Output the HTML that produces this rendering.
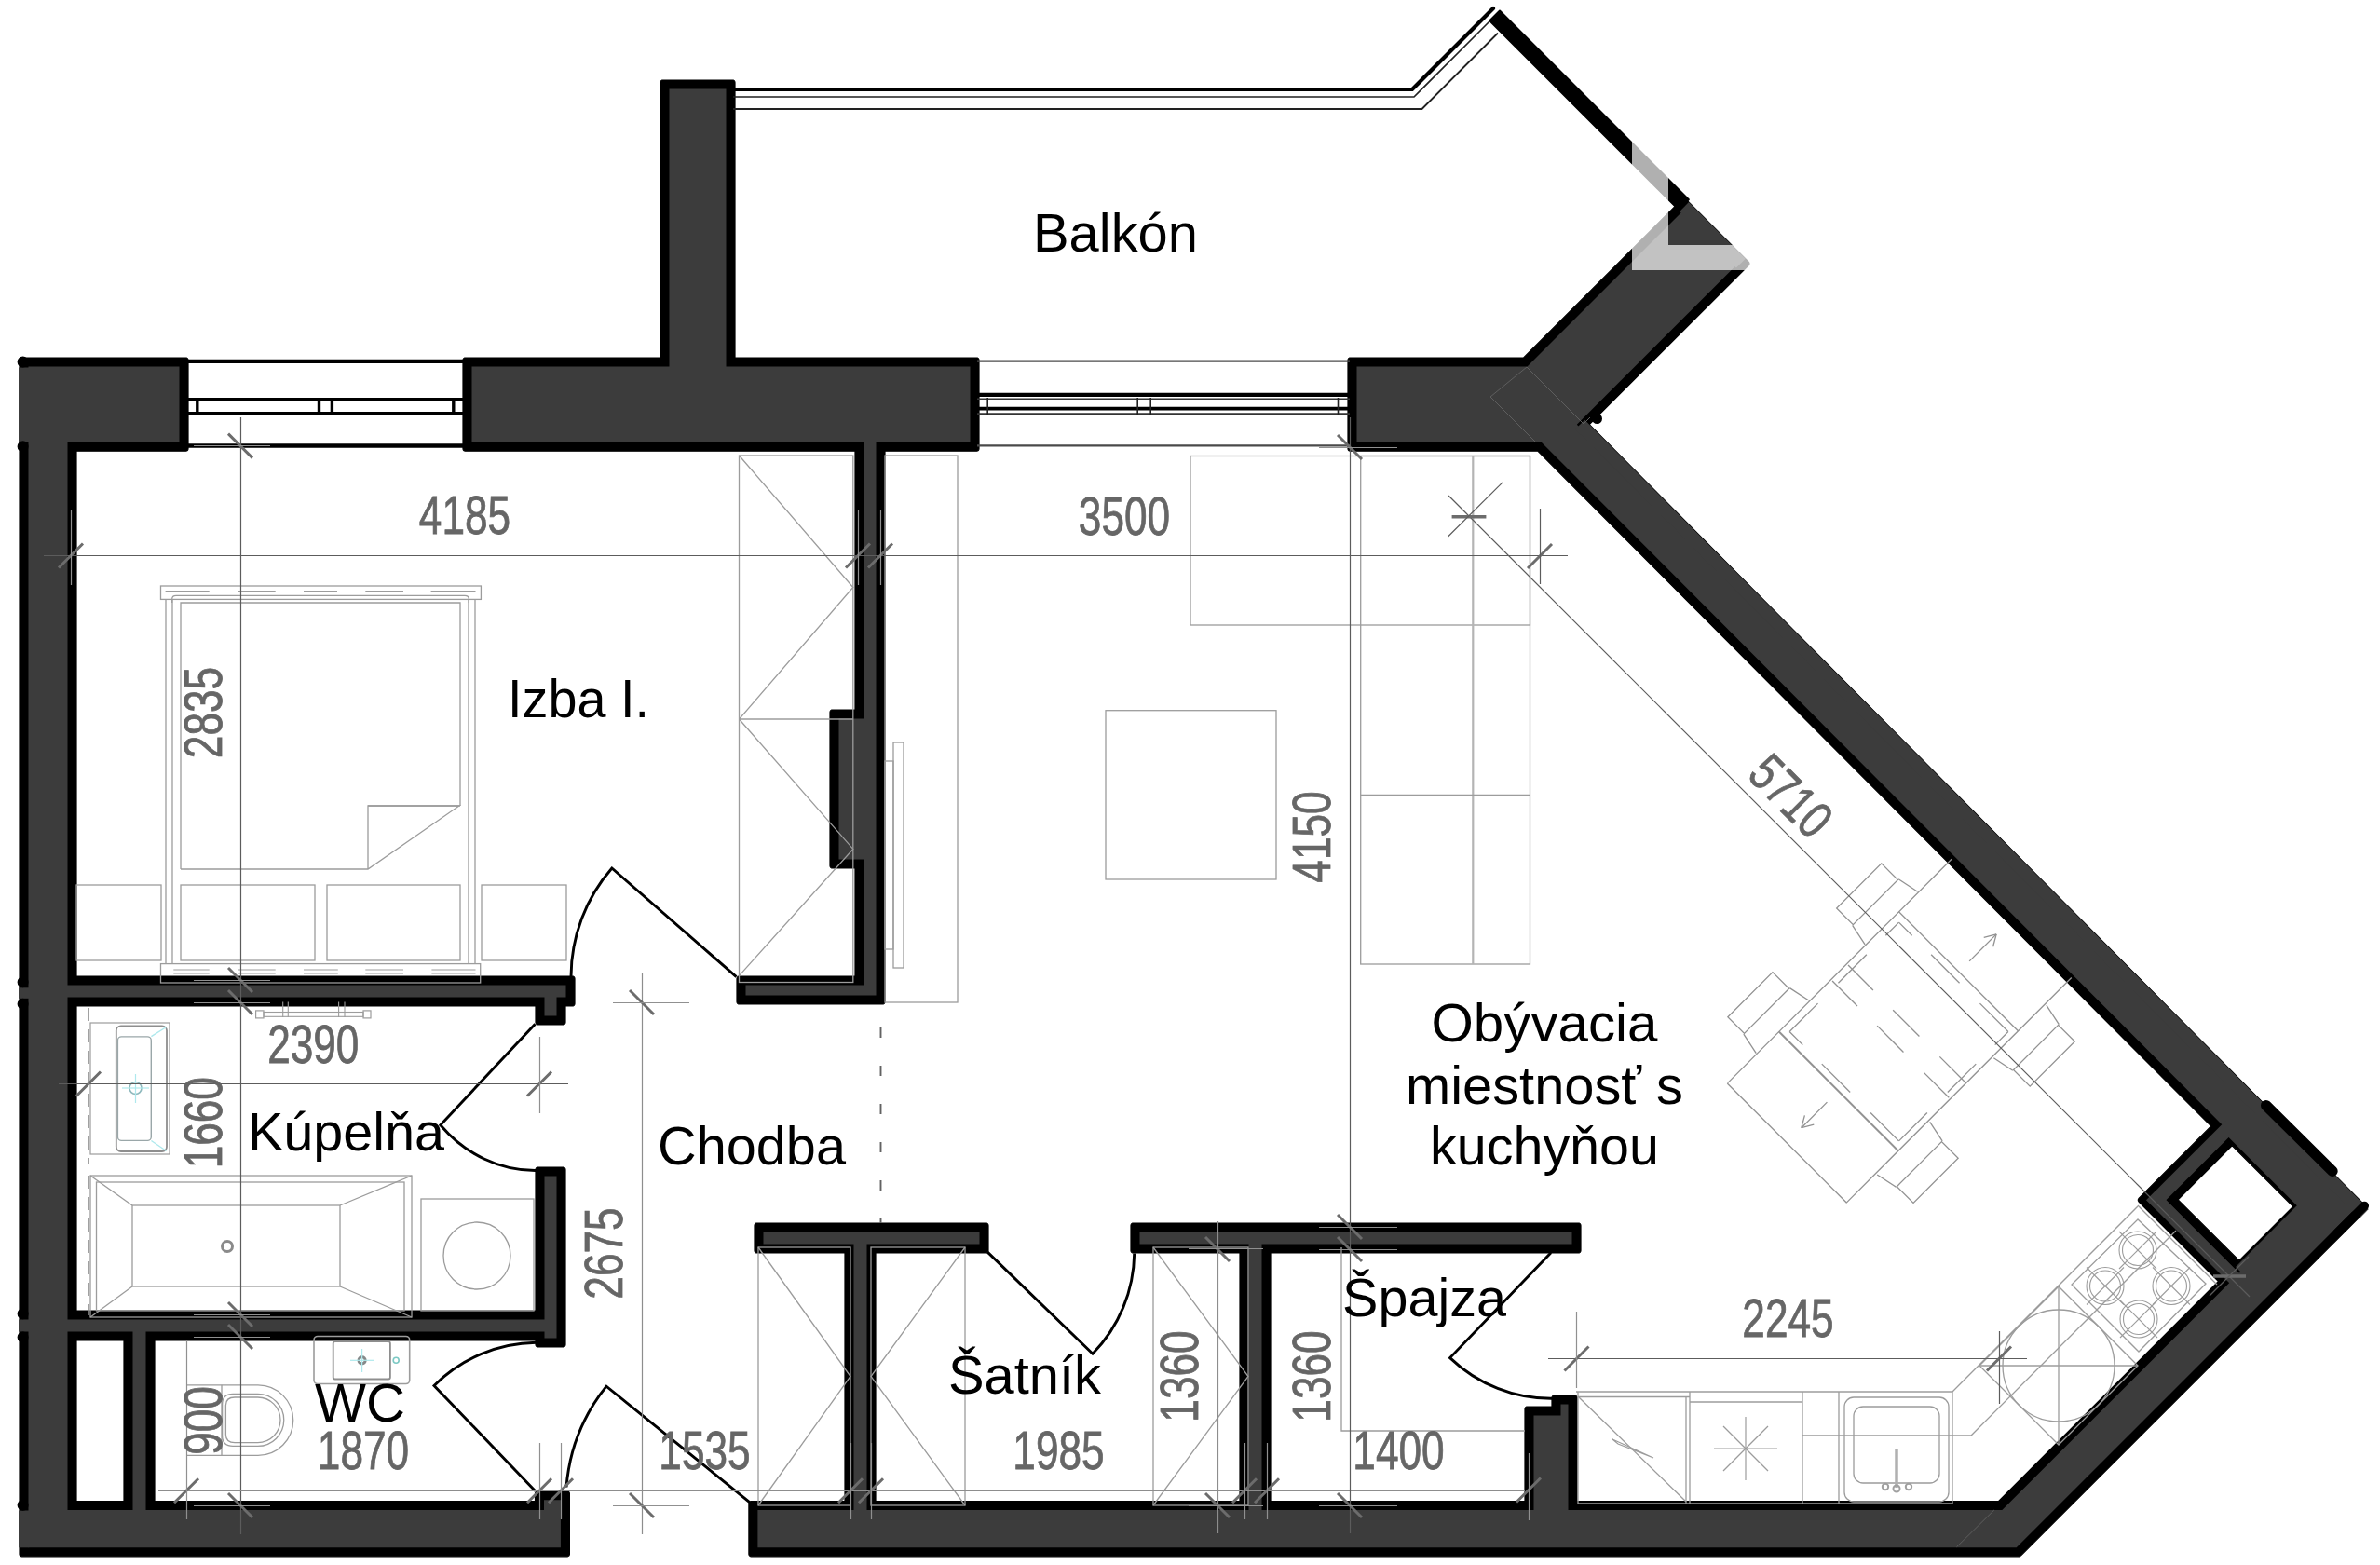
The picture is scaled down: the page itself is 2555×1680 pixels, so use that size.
<!DOCTYPE html>
<html><head><meta charset="utf-8"><title>Floor plan</title>
<style>html,body{margin:0;padding:0;background:#fff;}body{width:2555px;height:1680px;overflow:hidden;font-family:"Liberation Sans",sans-serif;}svg{display:block;}</style>
</head><body>
<svg width="2555" height="1680" viewBox="0 0 2555 1680">
<rect width="2555" height="1680" fill="#ffffff"/>
<path d="M1668.5 1498 L1667.5 1498.2 L1666.7 1498.7 L1666.2 1499.5 L1666 1500.5 L1666 1510 L1639.5 1510 L1638.5 1510.2 L1637.7 1510.7 L1637.2 1511.5 L1637 1512.5 L1637 1611.6 L1364 1611.6 L1364 1345 L1694.5 1345 L1695.5 1344.8 L1696.3 1344.3 L1696.8 1343.5 L1697 1342.5 L1697 1315.5 L1696.8 1314.5 L1696.3 1313.7 L1695.5 1313.2 L1694.5 1313 L1216.5 1313 L1215.5 1313.2 L1214.7 1313.7 L1214.2 1314.5 L1214 1315.5 L1214 1342.5 L1214.2 1343.5 L1214.7 1344.3 L1215.5 1344.8 L1216.5 1345 L1331 1345 L1331 1611.6 L940 1611.6 L940 1345 L1058.5 1345 L1059.5 1344.8 L1060.3 1344.3 L1060.8 1343.5 L1061 1342.5 L1061 1315.5 L1060.8 1314.5 L1060.3 1313.7 L1059.5 1313.2 L1058.5 1313 L812.5 1313 L811.5 1313.2 L810.7 1313.7 L810.2 1314.5 L810 1315.5 L810 1342.5 L810.2 1343.5 L810.7 1344.3 L811.5 1344.8 L812.5 1345 L907 1345 L907 1611.6 L806.4 1611.6 L805.4 1611.8 L804.6 1612.3 L804.1 1613.1 L803.9 1614.1 L803.9 1668.3 L804.1 1669.3 L804.6 1670.1 L805.4 1670.6 L806.4 1670.8 L2167.6 1670.8 L2168.5 1670.6 L2169.3 1670.1 L2540.4 1299 L2540.9 1298.2 L2541.1 1297.3 L2540.9 1296.3 L2540.4 1295.5 L1706.3 455.7 L1877.2 284.8 L1877.8 284 L1878 283 L1877.8 282 L1877.2 281.2 L1809.6 213.6 L1808.8 213 L1807.8 212.8 L1806.8 213 L1806 213.6 L1635.6 384 L1449.5 384 L1448.5 384.2 L1447.7 384.7 L1447.2 385.5 L1447 386.5 L1447 481.7 L1447.2 482.7 L1447.7 483.5 L1448.5 484 L1449.5 484.2 L1650.8 484.2 L2373.6 1208.9 L2296 1286.5 L2295.5 1287.3 L2295.3 1288.2 L2295.5 1289.2 L2296 1290 L2381.5 1375.5 L2145.4 1611.6 L1693 1611.6 L1693 1500.5 L1692.8 1499.5 L1692.3 1498.7 L1691.5 1498.2 L1690.5 1498Z M2396.2 1229.8 L2461 1294.5 L2460.8 1295.2 L2461 1296 L2403.8 1353.2 L2338.2 1287.8Z M918 762 L893.5 762 L892.5 762.2 L891.7 762.7 L891.2 763.5 L891 764.5 L891 929.5 L891.2 930.5 L891.7 931.3 L892.5 931.8 L893.5 932 L918 932 L918 1048 L793.5 1048 L792.5 1048.2 L791.7 1048.7 L791.2 1049.5 L791 1050.5 L791 1075.5 L791.2 1076.5 L791.7 1077.3 L792.5 1077.8 L793.5 1078 L947.5 1078 L948.5 1077.8 L949.3 1077.3 L949.8 1076.5 L950 1075.5 L950 484.2 L1048.5 484.2 L1049.5 484 L1050.3 483.5 L1050.8 482.7 L1051 481.7 L1051 386.5 L1050.8 385.5 L1050.3 384.7 L1049.5 384.2 L1048.5 384 L789 384 L789 88.5 L788.8 87.5 L788.3 86.7 L787.5 86.2 L786.5 86 L711.5 86 L710.5 86.2 L709.7 86.7 L709.2 87.5 L709 88.5 L709 384 L499.5 384 L498.5 384.2 L497.7 384.7 L497.2 385.5 L497 386.5 L497 481.7 L497.2 482.7 L497.7 483.5 L498.5 484 L499.5 484.2 L918 484.2Z M611.4 1603.3 L611.2 1602.3 L610.7 1601.5 L609.9 1601 L608.9 1600.8 L577 1600.8 L576 1601 L575.2 1601.5 L574.7 1602.3 L574.5 1603.3 L574.5 1611.6 L166 1611.6 L166 1439 L575 1439 L575 1443.5 L575.2 1444.5 L575.7 1445.3 L576.5 1445.8 L577.5 1446 L604.5 1446 L605.5 1445.8 L606.3 1445.3 L606.8 1444.5 L607 1443.5 L607 1255.5 L606.8 1254.5 L606.3 1253.7 L605.5 1253.2 L604.5 1253 L577.5 1253 L576.5 1253.2 L575.7 1253.7 L575.2 1254.5 L575 1255.5 L575 1407 L82 1407 L82 1080 L575 1080 L575 1097.5 L575.2 1098.5 L575.7 1099.3 L576.5 1099.8 L577.5 1100 L604.5 1100 L605.5 1099.8 L606.3 1099.3 L606.8 1098.5 L607 1097.5 L607 1080 L614.5 1080 L615.5 1079.8 L616.3 1079.3 L616.8 1078.5 L617 1077.5 L617 1050.5 L616.8 1049.5 L616.3 1048.7 L615.5 1048.2 L614.5 1048 L82 1048 L82 484.2 L199.5 484.2 L200.5 484 L201.3 483.5 L201.8 482.7 L202 481.7 L202 386.5 L201.8 385.5 L201.3 384.7 L200.5 384.2 L199.5 384 L23.5 384 L22.5 384.2 L21.7 384.7 L21.2 385.5 L21 386.5 L21 1668.3 L21.2 1669.3 L21.7 1670.1 L22.5 1670.6 L23.5 1670.8 L608.9 1670.8 L609.9 1670.6 L610.7 1670.1 L611.2 1669.3 L611.4 1668.3Z M82 1611.6 L82 1439 L133 1439 L133 1611.6Z" fill="#000000" fill-rule="evenodd" stroke="#000" stroke-width="1.2" stroke-linejoin="round"/>
<path d="M1675.5 1507.5 L1675.5 1519.5 L1646.5 1519.5 L1646.5 1621.1 L1354.5 1621.1 L1354.5 1335.5 L1687.5 1335.5 L1687.5 1322.5 L1223.5 1322.5 L1223.5 1335.5 L1340.5 1335.5 L1340.5 1621.1 L930.5 1621.1 L930.5 1335.5 L1051.5 1335.5 L1051.5 1322.5 L819.5 1322.5 L819.5 1335.5 L916.5 1335.5 L916.5 1621.1 L813.4 1621.1 L813.4 1661.3 L2164.7 1661.3 L2528.7 1297.3 L1692.8 455.7 L1865.6 283 L1807.8 225.2 L1639.5 393.5 L1456.5 393.5 L1456.5 474.7 L1654.7 474.7 L2387.1 1208.9 L2307.7 1288.2 L2394.9 1375.5 L2149.3 1621.1 L1683.5 1621.1 L1683.5 1507.5Z M2404.9 1224.9 L2474.2 1294.2 L2473.2 1295.2 L2474.2 1296.2 L2403.8 1366.7 L2324.8 1287.8 L2404.9 1207.7Z M927.5 771.5 L900.5 771.5 L900.5 922.5 L927.5 922.5 L927.5 1057.5 L800.5 1057.5 L800.5 1068.5 L940.5 1068.5 L940.5 474.7 L1041.5 474.7 L1041.5 393.5 L779.5 393.5 L779.5 95.5 L718.5 95.5 L718.5 393.5 L506.5 393.5 L506.5 474.7 L927.5 474.7Z M584.5 1436.5 L597.5 1436.5 L597.5 1262.5 L584.5 1262.5 L584.5 1416.5 L72.5 1416.5 L72.5 1070.5 L584.5 1070.5 L584.5 1090.5 L597.5 1090.5 L597.5 1070.5 L607.5 1070.5 L607.5 1057.5 L72.5 1057.5 L72.5 474.7 L192.5 474.7 L192.5 393.5 L30.5 393.5 L30.5 1661.3 L601.9 1661.3 L601.9 1610.3 L584 1610.3 L584 1621.1 L156.5 1621.1 L156.5 1429.5 L584.5 1429.5Z M72.5 1621.1 L72.5 1429.5 L142.5 1429.5 L142.5 1621.1Z" fill="#3c3c3c" fill-rule="evenodd"/>
<polygon points="1701.3,450.8 2542.8,1298 2532.9,1307.9 1691.4,460.6" fill="#3c3c3c" stroke="none" stroke-width="0" />
<polygon points="1813,217 1873.8,277.8 1863.9,287.6 1803.2,226.9" fill="#3c3c3c" stroke="none" stroke-width="0" />
<polygon points="2384.8,1213.2 2399,1199 2495,1295 2480.8,1309.2" fill="#3c3c3c" stroke="none" stroke-width="0" />
<polygon points="2400,1360 2473,1287 2481,1295 2408,1368" fill="#3c3c3c" stroke="none" stroke-width="0" />
<polygon points="2304.2,1288.2 2389.2,1203.2 2399.8,1213.8 2314.8,1298.8" fill="#3c3c3c" stroke="none" stroke-width="0" />
<polygon points="2304.2,1288.2 2314.8,1277.8 2406.5,1369.5 2396,1380" fill="#3c3c3c" stroke="none" stroke-width="0" />
<line x1="2432.7" y1="1186.6" x2="2504" y2="1257.2" stroke="#000" stroke-width="11.4" stroke-linecap="round"/>
<line x1="2538.3" y1="1294.4" x2="2508.8" y2="1323.9" stroke="#000" stroke-width="9.5" stroke-linecap="round"/>
<circle cx="1714.5" cy="449.5" r="3" fill="#000" stroke="#000" stroke-width="5"/>
<rect x="20" y="394.5" width="11.2" height="80" fill="#3c3c3c" stroke="none" stroke-width="0"  />
<rect x="20" y="1060.3" width="11.2" height="11.5" fill="#3c3c3c" stroke="none" stroke-width="0"  />
<rect x="20" y="1416.5" width="11.2" height="13" fill="#3c3c3c" stroke="none" stroke-width="0"  />
<rect x="20" y="1621.5" width="11.2" height="39.8" fill="#3c3c3c" stroke="none" stroke-width="0"  />
<circle cx="24.6" cy="388.6" r="3" fill="#000" stroke="#000" stroke-width="6"/>
<circle cx="24.6" cy="479.3" r="3" fill="#000" stroke="#000" stroke-width="6"/>
<circle cx="24.6" cy="1054.2" r="3" fill="#000" stroke="#000" stroke-width="6"/>
<circle cx="24.6" cy="1077.8" r="3" fill="#000" stroke="#000" stroke-width="6"/>
<circle cx="24.6" cy="1410.3" r="3" fill="#000" stroke="#000" stroke-width="6"/>
<circle cx="24.6" cy="1435.6" r="3" fill="#000" stroke="#000" stroke-width="6"/>
<circle cx="24.6" cy="1615.7" r="3" fill="#000" stroke="#000" stroke-width="6"/>
<polyline points="1648,474 1600,426 1639,394 1700,455 1707,448" fill="none" stroke="#5e5e5e" stroke-width="1" />
<line x1="2100.5" y1="1660.7" x2="2140.8" y2="1621" stroke="#5e5e5e" stroke-width="1" />
<g id="furn" stroke-linecap="butt">
<rect x="793.5" y="489" width="122.3" height="565.5" fill="none" stroke="#9c9c9c" stroke-width="1.3"  />
<polyline points="793.5,489 915.8,630.5 793.5,772" fill="none" stroke="#9c9c9c" stroke-width="1.3" />
<line x1="793.5" y1="772" x2="915.8" y2="772" stroke="#9c9c9c" stroke-width="1.3" />
<polyline points="793.5,772 915.8,911.4 793.5,1047.4" fill="none" stroke="#9c9c9c" stroke-width="1.3" />
<rect x="172.5" y="629" width="343.9" height="14.4" fill="none" stroke="#9c9c9c" stroke-width="1.3"  />
<line x1="177.6" y1="634.6" x2="224.7" y2="634.6" stroke="#9c9c9c" stroke-width="1.2" />
<line x1="255" y1="634.6" x2="295.7" y2="634.6" stroke="#9c9c9c" stroke-width="1.2" />
<line x1="326" y1="634.6" x2="362" y2="634.6" stroke="#9c9c9c" stroke-width="1.2" />
<line x1="392.3" y1="634.6" x2="433" y2="634.6" stroke="#9c9c9c" stroke-width="1.2" />
<line x1="462.6" y1="634.6" x2="510.5" y2="634.6" stroke="#9c9c9c" stroke-width="1.2" />
<path d="M184.7 647 V643 Q184.7 639.3 189 639.3 H499 Q503.3 639.3 503.3 643 V647" fill="none" stroke="#9c9c9c" stroke-width="1.2" />
<line x1="178" y1="643" x2="178" y2="1035" stroke="#9c9c9c" stroke-width="1.3" />
<line x1="185" y1="643" x2="185" y2="1035" stroke="#9c9c9c" stroke-width="1.3" />
<line x1="503" y1="643" x2="503" y2="1035" stroke="#9c9c9c" stroke-width="1.3" />
<line x1="510" y1="643" x2="510" y2="1035" stroke="#9c9c9c" stroke-width="1.3" />
<polyline points="194,933 194,647 494,647 494,865" fill="none" stroke="#9c9c9c" stroke-width="1.3" />
<polyline points="194,933 395,933 493,865 395,865 395,933" fill="none" stroke="#9c9c9c" stroke-width="1.3" />
<line x1="395" y1="865" x2="494" y2="865" stroke="#9c9c9c" stroke-width="1.3" />
<rect x="82" y="950" width="91" height="81" fill="none" stroke="#9c9c9c" stroke-width="1.3"  />
<rect x="194" y="950" width="144" height="81" fill="none" stroke="#9c9c9c" stroke-width="1.3"  />
<rect x="351" y="950" width="143" height="81" fill="none" stroke="#9c9c9c" stroke-width="1.3"  />
<rect x="517" y="950" width="91" height="81" fill="none" stroke="#9c9c9c" stroke-width="1.3"  />
<rect x="172.5" y="1034.6" width="343.2" height="20.4" fill="none" stroke="#9c9c9c" stroke-width="1.3"  />
<line x1="186.3" y1="1041" x2="224.7" y2="1041" stroke="#9c9c9c" stroke-width="1.2" />
<line x1="186.3" y1="1045" x2="224.7" y2="1045" stroke="#9c9c9c" stroke-width="1.2" />
<line x1="255" y1="1041" x2="295.7" y2="1041" stroke="#9c9c9c" stroke-width="1.2" />
<line x1="255" y1="1045" x2="295.7" y2="1045" stroke="#9c9c9c" stroke-width="1.2" />
<line x1="326" y1="1041" x2="362.8" y2="1041" stroke="#9c9c9c" stroke-width="1.2" />
<line x1="326" y1="1045" x2="362.8" y2="1045" stroke="#9c9c9c" stroke-width="1.2" />
<line x1="392.3" y1="1041" x2="433" y2="1041" stroke="#9c9c9c" stroke-width="1.2" />
<line x1="392.3" y1="1045" x2="433" y2="1045" stroke="#9c9c9c" stroke-width="1.2" />
<line x1="463.4" y1="1041" x2="510.5" y2="1041" stroke="#9c9c9c" stroke-width="1.2" />
<line x1="463.4" y1="1045" x2="510.5" y2="1045" stroke="#9c9c9c" stroke-width="1.2" />
<rect x="950" y="489" width="78" height="587" fill="none" stroke="#9c9c9c" stroke-width="1.3"  />
<rect x="959" y="797" width="11" height="242" fill="none" stroke="#9c9c9c" stroke-width="1.3"  />
<rect x="950" y="817" width="9" height="202" fill="none" stroke="#9c9c9c" stroke-width="1.3"  />
<rect x="1187" y="762.7" width="183" height="181.3" fill="none" stroke="#9c9c9c" stroke-width="1.3"  />
<rect x="1278" y="489.5" width="364.5" height="181.5" fill="none" stroke="#9c9c9c" stroke-width="1.3"  />
<rect x="1460.7" y="489.5" width="181.8" height="545.5" fill="none" stroke="#9c9c9c" stroke-width="1.3"  />
<line x1="1581.3" y1="489.5" x2="1581.3" y2="1035" stroke="#b4b4b4" stroke-width="2.2" />
<line x1="1460.7" y1="853.4" x2="1642.5" y2="853.4" stroke="#9c9c9c" stroke-width="1.3" />
<rect x="814" y="1339" width="99" height="277" fill="none" stroke="#9c9c9c" stroke-width="1.3"  />
<polyline points="814,1339 913,1477.5 814,1616" fill="none" stroke="#9c9c9c" stroke-width="1.3" />
<rect x="935" y="1339" width="101" height="277" fill="none" stroke="#9c9c9c" stroke-width="1.3"  />
<polyline points="1036,1339 935,1477.5 1036,1616" fill="none" stroke="#9c9c9c" stroke-width="1.3" />
<rect x="1238" y="1339" width="102" height="277" fill="none" stroke="#9c9c9c" stroke-width="1.3"  />
<polyline points="1238,1339 1340,1477.5 1238,1616" fill="none" stroke="#9c9c9c" stroke-width="1.3" />
<polyline points="1440,1339 1440,1536 1637,1536" fill="none" stroke="#9c9c9c" stroke-width="1.3" />
</g>
<g id="furn2">
<rect x="97" y="1098" width="85" height="141" fill="none" stroke="#9c9c9c" stroke-width="1.2"  />
<rect x="124.8" y="1101.3" width="54.2" height="134.7" fill="none" stroke="#8e8e8e" stroke-width="1.8" rx="5" />
<rect x="126.4" y="1112.9" width="35.9" height="111.5" fill="none" stroke="#9aa7a9" stroke-width="1.4" rx="4" />
<circle cx="145.5" cy="1168" r="6.5" fill="none" stroke="#8fb9bd" stroke-width="1.6"/>
<line x1="145.5" y1="1153" x2="145.5" y2="1184" stroke="#aee9ed" stroke-width="1.2" />
<line x1="131" y1="1168" x2="160" y2="1168" stroke="#aee9ed" stroke-width="1.2" />
<line x1="162.4" y1="1112.7" x2="178.5" y2="1102.5" stroke="#aee9ed" stroke-width="1.4" />
<line x1="162.4" y1="1224.5" x2="178.5" y2="1235.5" stroke="#aee9ed" stroke-width="1.4" />
<rect x="97" y="1262" width="345" height="152" fill="none" stroke="#9c9c9c" stroke-width="1.3"  />
<rect x="103.5" y="1269" width="330.5" height="138" fill="none" stroke="#9c9c9c" stroke-width="1.3"  />
<rect x="142" y="1294" width="223" height="87" fill="none" stroke="#9c9c9c" stroke-width="1.3"  />
<line x1="97" y1="1262" x2="142" y2="1294" stroke="#9c9c9c" stroke-width="1.3" />
<line x1="442" y1="1262" x2="365" y2="1294" stroke="#9c9c9c" stroke-width="1.3" />
<line x1="97" y1="1414" x2="142" y2="1381" stroke="#9c9c9c" stroke-width="1.3" />
<line x1="442" y1="1414" x2="365" y2="1381" stroke="#9c9c9c" stroke-width="1.3" />
<circle cx="244" cy="1338" r="5.5" fill="none" stroke="#8a8a8a" stroke-width="3"/>
<rect x="452" y="1287" width="121" height="120" fill="none" stroke="#9c9c9c" stroke-width="1.3"  />
<circle cx="512" cy="1348" r="36" fill="none" stroke="#9c9c9c" stroke-width="1.3"/>
<rect x="283" y="1086.5" width="107" height="4.8" fill="none" stroke="#9c9c9c" stroke-width="1.1"  />
<rect x="274.6" y="1084.9" width="8.4" height="8" fill="none" stroke="#9c9c9c" stroke-width="1.2"  />
<rect x="390" y="1084.9" width="8" height="8" fill="none" stroke="#9c9c9c" stroke-width="1.2"  />
<line x1="303.7" y1="1075.5" x2="303.7" y2="1092" stroke="#9c9c9c" stroke-width="1.1" />
<line x1="309.3" y1="1075.5" x2="309.3" y2="1092" stroke="#9c9c9c" stroke-width="1.1" />
<line x1="363.6" y1="1075.5" x2="363.6" y2="1092" stroke="#9c9c9c" stroke-width="1.1" />
<line x1="370" y1="1075.5" x2="370" y2="1092" stroke="#9c9c9c" stroke-width="1.1" />
<rect x="337" y="1434.5" width="102.7" height="51" fill="none" stroke="#9c9c9c" stroke-width="1.6" rx="4" />
<rect x="357.7" y="1440.2" width="61.2" height="40.3" fill="none" stroke="#8e8e8e" stroke-width="1.8" rx="2" />
<circle cx="388.6" cy="1460.3" r="3.6" fill="none" stroke="#85898a" stroke-width="3"/>
<line x1="388.6" y1="1448" x2="388.6" y2="1473" stroke="#aee9ed" stroke-width="1.2" />
<line x1="376" y1="1460.3" x2="401" y2="1460.3" stroke="#aee9ed" stroke-width="1.2" />
<circle cx="425.2" cy="1460.3" r="3" fill="none" stroke="#7cc9c4" stroke-width="1.6"/>
<path d="M200.8 1486.8 H277 A37.8 37.8 0 0 1 277 1562.4 H200.8" fill="none" stroke="#9c9c9c" stroke-width="1.3" />
<line x1="238" y1="1486.8" x2="238" y2="1562.4" stroke="#9c9c9c" stroke-width="1.3" />
<path d="M250 1496.3 H276.7 A28.05 28.05 0 0 1 276.7 1552.4 H250 Q238.6 1552.4 238.6 1541 V1507.5 Q238.6 1496.3 250 1496.3 Z" fill="none" stroke="#9c9c9c" stroke-width="1.3" />
<path d="M252 1500 H276.7 A24.3 24.3 0 0 1 276.7 1548.6 H252 Q242.4 1548.6 242.4 1540 V1508.6 Q242.4 1500 252 1500 Z" fill="none" stroke="#9c9c9c" stroke-width="1.3" />
<polyline points="1692,1494 2096,1494" fill="none" stroke="#9c9c9c" stroke-width="1.3" />
<line x1="1694" y1="1499.5" x2="1814" y2="1499.5" stroke="#9c9c9c" stroke-width="1.3" />
<line x1="1694" y1="1494" x2="1694" y2="1614" stroke="#9c9c9c" stroke-width="1.3" />
<line x1="1695" y1="1500" x2="1810" y2="1612" stroke="#9c9c9c" stroke-width="1.3" />
<polyline points="1731,1545 1775,1565 1737,1550 1731,1545" fill="none" stroke="#9c9c9c" stroke-width="1.1" />
<line x1="1810" y1="1499.5" x2="1810" y2="1614" stroke="#9c9c9c" stroke-width="1.3" />
<line x1="1814" y1="1494" x2="1814" y2="1614" stroke="#9c9c9c" stroke-width="1.3" />
<line x1="1814" y1="1505" x2="1935" y2="1505" stroke="#9c9c9c" stroke-width="1.3" />
<line x1="1935" y1="1494" x2="1935" y2="1614" stroke="#9c9c9c" stroke-width="1.3" />
<line x1="1974" y1="1494" x2="1974" y2="1614" stroke="#9c9c9c" stroke-width="1.3" />
<line x1="2096" y1="1494" x2="2096" y2="1614" stroke="#9c9c9c" stroke-width="1.3" />
<line x1="1694" y1="1614" x2="2096" y2="1614" stroke="#9c9c9c" stroke-width="1.3" />
<line x1="1840" y1="1555" x2="1908" y2="1555" stroke="#9c9c9c" stroke-width="1.2" />
<line x1="1850" y1="1531" x2="1898" y2="1579" stroke="#9c9c9c" stroke-width="1.2" />
<line x1="1874" y1="1521" x2="1874" y2="1589" stroke="#9c9c9c" stroke-width="1.2" />
<line x1="1898" y1="1531" x2="1850" y2="1579" stroke="#9c9c9c" stroke-width="1.2" />
<rect x="1980" y="1500" width="112" height="112" fill="none" stroke="#9c9c9c" stroke-width="1.3" rx="10" />
<rect x="1990" y="1510" width="92" height="82" fill="none" stroke="#9c9c9c" stroke-width="1.3" rx="10" />
<line x1="2036" y1="1555" x2="2036" y2="1597" stroke="#b0b0b0" stroke-width="3.5" />
<circle cx="2024" cy="1596" r="3.2" fill="none" stroke="#a0a0a0" stroke-width="2"/>
<circle cx="2049" cy="1596" r="3.2" fill="none" stroke="#a0a0a0" stroke-width="2"/>
<circle cx="2036" cy="1598" r="3.5" fill="none" stroke="#a0a0a0" stroke-width="2"/>
<polyline points="1935,1541 2116,1541 2336,1321" fill="none" stroke="#9c9c9c" stroke-width="1.3" />
<line x1="2096" y1="1494" x2="2296" y2="1294" stroke="#9c9c9c" stroke-width="1.3" />
<polygon points="2125,1466 2210,1381 2295,1466 2210,1551" fill="none" stroke="#9c9c9c" stroke-width="1.3" />
<line x1="2210" y1="1381" x2="2210" y2="1551" stroke="#9c9c9c" stroke-width="1.3" />
<line x1="2125" y1="1466" x2="2295" y2="1466" stroke="#9c9c9c" stroke-width="1.3" />
<circle cx="2210" cy="1466" r="60" fill="none" stroke="#9c9c9c" stroke-width="1.3"/>
<line x1="2296" y1="1295" x2="2380" y2="1379" stroke="#9c9c9c" stroke-width="1.3" />
<polygon points="2295,1309 2224,1379 2296,1451 2368,1378" fill="none" stroke="#9c9c9c" stroke-width="1.3" />
<circle cx="2295" cy="1342" r="20" fill="none" stroke="#9c9c9c" stroke-width="1.1"/>
<circle cx="2295" cy="1342" r="16.5" fill="none" stroke="#9c9c9c" stroke-width="1.1"/>
<line x1="2275" y1="1322" x2="2315" y2="1362" stroke="#9c9c9c" stroke-width="1.1" />
<line x1="2275" y1="1362" x2="2315" y2="1322" stroke="#9c9c9c" stroke-width="1.1" />
<circle cx="2260" cy="1380.5" r="20" fill="none" stroke="#9c9c9c" stroke-width="1.1"/>
<circle cx="2260" cy="1380.5" r="16.5" fill="none" stroke="#9c9c9c" stroke-width="1.1"/>
<line x1="2240" y1="1360.5" x2="2280" y2="1400.5" stroke="#9c9c9c" stroke-width="1.1" />
<line x1="2240" y1="1400.5" x2="2280" y2="1360.5" stroke="#9c9c9c" stroke-width="1.1" />
<circle cx="2331" cy="1380.5" r="20" fill="none" stroke="#9c9c9c" stroke-width="1.1"/>
<circle cx="2331" cy="1380.5" r="16.5" fill="none" stroke="#9c9c9c" stroke-width="1.1"/>
<line x1="2311" y1="1360.5" x2="2351" y2="1400.5" stroke="#9c9c9c" stroke-width="1.1" />
<line x1="2311" y1="1400.5" x2="2351" y2="1360.5" stroke="#9c9c9c" stroke-width="1.1" />
<circle cx="2296" cy="1416" r="20" fill="none" stroke="#9c9c9c" stroke-width="1.1"/>
<circle cx="2296" cy="1416" r="16.5" fill="none" stroke="#9c9c9c" stroke-width="1.1"/>
<line x1="2276" y1="1396" x2="2316" y2="1436" stroke="#9c9c9c" stroke-width="1.1" />
<line x1="2276" y1="1436" x2="2316" y2="1396" stroke="#9c9c9c" stroke-width="1.1" />
</g>
<g id="dining" transform="translate(2038.5,1107.5) rotate(45)" fill="none" stroke="#929292" stroke-width="1.3">
<line x1="-91" y1="-171" x2="-91" y2="169"/>
<line x1="90" y1="-172" x2="90" y2="170"/>
<line x1="-91" y1="-91" x2="90" y2="-91"/>
<line x1="-91" y1="91" x2="90" y2="91" stroke-width="2"/>
<line x1="-91" y1="169.5" x2="90" y2="169.5"/>
<line x1="-83" y1="-83" x2="-63" y2="-83"/>
<line x1="-83" y1="83" x2="-63" y2="83"/>
<line x1="-83" y1="-83" x2="-83" y2="-63"/>
<line x1="83" y1="-83" x2="83" y2="-63"/>
<line x1="-34" y1="-83" x2="9" y2="-83"/>
<line x1="-34" y1="83" x2="9" y2="83"/>
<line x1="-83" y1="-34" x2="-83" y2="9"/>
<line x1="83" y1="-34" x2="83" y2="9"/>
<line x1="40" y1="-83" x2="83" y2="-83"/>
<line x1="40" y1="83" x2="83" y2="83"/>
<line x1="-83" y1="40" x2="-83" y2="83"/>
<line x1="83" y1="40" x2="83" y2="83"/>
<line x1="-89" y1="-12" x2="-51" y2="-12"/>
<line x1="-89" y1="12" x2="-51" y2="12"/>
<line x1="-21" y1="-12" x2="19" y2="-12"/>
<line x1="-21" y1="12" x2="19" y2="12"/>
<line x1="50" y1="-12" x2="88" y2="-12"/>
<line x1="50" y1="12" x2="88" y2="12"/>
<line x1="0" y1="-107" x2="0" y2="-148"/>
<line x1="0" y1="-148" x2="-7" y2="-136"/>
<line x1="0" y1="-148" x2="7" y2="-136"/>
<line x1="-1" y1="108" x2="-1" y2="147"/>
<line x1="-1" y1="147" x2="-8" y2="135"/>
<line x1="-1" y1="147" x2="6" y2="135"/>
<path d="M-116 -114.5 L-141 -114.5 L-141 -46.5 L-116 -46.5 Z"/>
<line x1="-116" y1="-115.5" x2="-92" y2="-120.5"/>
<line x1="-116" y1="-45.5" x2="-92" y2="-40.5"/>
<path d="M-116 50.7 L-141 50.7 L-141 118.7 L-116 118.7 Z"/>
<line x1="-116" y1="49.7" x2="-92" y2="44.7"/>
<line x1="-116" y1="119.7" x2="-92" y2="124.7"/>
<path d="M116 -126 L141 -126 L141 -58 L116 -58 Z"/>
<line x1="116" y1="-127" x2="92" y2="-132"/>
<line x1="116" y1="-57" x2="92" y2="-52"/>
<path d="M116 51 L141 51 L141 119 L116 119 Z"/>
<line x1="116" y1="50" x2="92" y2="45"/>
<line x1="116" y1="120" x2="92" y2="125"/>
</g>
<g id="openings" stroke-linecap="butt">
<line x1="200" y1="387.9" x2="498" y2="387.9" stroke="#000000" stroke-width="4.3" />
<line x1="200" y1="428.4" x2="498" y2="428.4" stroke="#000000" stroke-width="3.0" />
<line x1="200" y1="443.6" x2="498" y2="443.6" stroke="#000000" stroke-width="3.0" />
<line x1="200" y1="478.5" x2="498" y2="478.5" stroke="#000000" stroke-width="4.3" />
<line x1="211.8" y1="428" x2="211.8" y2="444" stroke="#000000" stroke-width="3.4" />
<line x1="342.5" y1="428" x2="342.5" y2="444" stroke="#000000" stroke-width="3.4" />
<line x1="356.4" y1="428" x2="356.4" y2="444" stroke="#000000" stroke-width="3.4" />
<line x1="486.8" y1="428" x2="486.8" y2="444" stroke="#000000" stroke-width="3.4" />
<line x1="1049" y1="387.6" x2="1449" y2="387.6" stroke="#4a4a4a" stroke-width="2.2" />
<line x1="1049" y1="478.4" x2="1449" y2="478.4" stroke="#4a4a4a" stroke-width="2.2" />
<line x1="1049" y1="423.9" x2="1449" y2="423.9" stroke="#000000" stroke-width="4.4" />
<line x1="1049" y1="428.3" x2="1449" y2="428.3" stroke="#333" stroke-width="1.6" />
<line x1="1049" y1="438.7" x2="1449" y2="438.7" stroke="#000000" stroke-width="3.8" />
<line x1="1049" y1="444.1" x2="1449" y2="444.1" stroke="#333" stroke-width="1.8" />
<line x1="1060.2" y1="427" x2="1060.2" y2="445" stroke="#222" stroke-width="1.6" />
<line x1="1221.2" y1="427" x2="1221.2" y2="445" stroke="#222" stroke-width="1.6" />
<line x1="1235.2" y1="427" x2="1235.2" y2="445" stroke="#222" stroke-width="1.6" />
<line x1="1436.5" y1="427" x2="1436.5" y2="445" stroke="#222" stroke-width="1.6" />
<polyline points="787,96 1516,96 1603,9" fill="none" stroke="#000000" stroke-width="4.2" stroke-linejoin="miter" stroke-linecap="round"/>
<polyline points="787,104 1518,104 1598.5,23.5" fill="none" stroke="#222" stroke-width="1.6" />
<polyline points="787,117 1526.5,117 1608,35.5" fill="none" stroke="#222" stroke-width="1.8" />
<polygon points="1599.2,22.2 1610,11.5 1812.8,214.2 1802,225" fill="#000000" stroke="#000000" stroke-width="2" stroke-linejoin="round"/>
<path d="M790.5 1048.6 L656.9 932 A177.4 177.4 0 0 0 613 1048.5" fill="none" stroke="#000000" stroke-width="2.9" stroke-linejoin="miter"/>
<path d="M574.5 1099.3 L472.8 1207.7 A140.4 157.2 0 0 0 575.5 1256.5" fill="none" stroke="#000000" stroke-width="2.9" stroke-linejoin="miter"/>
<path d="M574.5 1600.5 L466 1487.4 A157.5 157.5 0 0 1 575.5 1441.2" fill="none" stroke="#000000" stroke-width="2.9" stroke-linejoin="miter"/>
<path d="M804.7 1612.6 L651 1488.2 A197.6 197.6 0 0 0 608 1596.5" fill="none" stroke="#000000" stroke-width="2.9" stroke-linejoin="miter"/>
<path d="M1060.2 1344.1 L1173 1453.2 A157 157 0 0 0 1217.7 1345.4" fill="none" stroke="#000000" stroke-width="2.9" stroke-linejoin="miter"/>
<path d="M1665 1344.7 L1556.6 1457.6 A156.5 156.5 0 0 0 1667.5 1501.3" fill="none" stroke="#000000" stroke-width="2.9" stroke-linejoin="miter"/>
</g>
<g id="dims">
<line x1="47" y1="596.5" x2="1683" y2="596.5" stroke="#5c5c5c" stroke-width="1.2" />
<line x1="63" y1="609.5" x2="89" y2="583.5" stroke="#6c6c6c" stroke-width="3.0" />
<line x1="76.5" y1="547" x2="76.5" y2="628" stroke="#909090" stroke-width="1.2" />
<line x1="908" y1="609.5" x2="934" y2="583.5" stroke="#6c6c6c" stroke-width="3.0" />
<line x1="921.5" y1="547" x2="921.5" y2="628" stroke="#909090" stroke-width="1.2" />
<line x1="932" y1="609.5" x2="958" y2="583.5" stroke="#6c6c6c" stroke-width="3.0" />
<line x1="945.5" y1="547" x2="945.5" y2="628" stroke="#909090" stroke-width="1.2" />
<line x1="1640" y1="610" x2="1666" y2="584" stroke="#6c6c6c" stroke-width="3.0" />
<line x1="1653.5" y1="546" x2="1653.5" y2="627" stroke="#5c5c5c" stroke-width="1.2" />
<line x1="258.5" y1="448" x2="258.5" y2="1647" stroke="#5c5c5c" stroke-width="1.2" />
<line x1="245" y1="465.6" x2="271" y2="491.6" stroke="#6c6c6c" stroke-width="3.0" />
<line x1="208" y1="478.5" x2="290" y2="478.5" stroke="#909090" stroke-width="1.2" />
<line x1="245" y1="1039" x2="271" y2="1065" stroke="#6c6c6c" stroke-width="3.0" />
<line x1="208" y1="1052.5" x2="290" y2="1052.5" stroke="#909090" stroke-width="1.2" />
<line x1="245" y1="1063" x2="271" y2="1089" stroke="#6c6c6c" stroke-width="3.0" />
<line x1="208" y1="1076.5" x2="290" y2="1076.5" stroke="#909090" stroke-width="1.2" />
<line x1="245" y1="1398" x2="271" y2="1424" stroke="#6c6c6c" stroke-width="3.0" />
<line x1="208" y1="1411.5" x2="290" y2="1411.5" stroke="#909090" stroke-width="1.2" />
<line x1="245" y1="1422" x2="271" y2="1448" stroke="#6c6c6c" stroke-width="3.0" />
<line x1="208" y1="1435.5" x2="290" y2="1435.5" stroke="#909090" stroke-width="1.2" />
<line x1="245" y1="1603" x2="271" y2="1629" stroke="#6c6c6c" stroke-width="3.0" />
<line x1="208" y1="1616.5" x2="290" y2="1616.5" stroke="#909090" stroke-width="1.2" />
<line x1="63" y1="1163.5" x2="610" y2="1163.5" stroke="#5c5c5c" stroke-width="1.2" />
<line x1="82" y1="1176.5" x2="108" y2="1150.5" stroke="#6c6c6c" stroke-width="3.0" />
<line x1="566" y1="1176.5" x2="592" y2="1150.5" stroke="#6c6c6c" stroke-width="3.0" />
<line x1="579.5" y1="1113" x2="579.5" y2="1195" stroke="#909090" stroke-width="1.2" />
<line x1="95" y1="1082" x2="95" y2="1250" stroke="#8a8a8a" stroke-width="1.6" stroke-dasharray="14 9"/>
<line x1="95" y1="1262" x2="95" y2="1412" stroke="#8a8a8a" stroke-width="1.6" stroke-dasharray="14 9"/>
<line x1="689.5" y1="1045" x2="689.5" y2="1647" stroke="#8d8d8d" stroke-width="1.2" />
<line x1="676" y1="1063" x2="702" y2="1089" stroke="#6c6c6c" stroke-width="3.0" />
<line x1="676" y1="1603" x2="702" y2="1629" stroke="#6c6c6c" stroke-width="3.0" />
<line x1="658" y1="1076.5" x2="740" y2="1076.5" stroke="#909090" stroke-width="1.2" />
<line x1="658" y1="1616.5" x2="740" y2="1616.5" stroke="#909090" stroke-width="1.2" />
<line x1="170" y1="1600.5" x2="1637" y2="1600.5" stroke="#8d8d8d" stroke-width="1.2" />
<line x1="187" y1="1613.3" x2="213" y2="1587.3" stroke="#6c6c6c" stroke-width="3.0" />
<line x1="200.5" y1="1439" x2="200.5" y2="1631" stroke="#909090" stroke-width="1.2" />
<line x1="566" y1="1613.3" x2="592" y2="1587.3" stroke="#6c6c6c" stroke-width="3.0" />
<line x1="579.5" y1="1549" x2="579.5" y2="1631" stroke="#909090" stroke-width="1.2" />
<line x1="589" y1="1613.3" x2="615" y2="1587.3" stroke="#6c6c6c" stroke-width="3.0" />
<line x1="602.5" y1="1549" x2="602.5" y2="1631" stroke="#909090" stroke-width="1.2" />
<line x1="900" y1="1613.3" x2="926" y2="1587.3" stroke="#6c6c6c" stroke-width="3.0" />
<line x1="913.5" y1="1549" x2="913.5" y2="1631" stroke="#909090" stroke-width="1.2" />
<line x1="922" y1="1613.3" x2="948" y2="1587.3" stroke="#6c6c6c" stroke-width="3.0" />
<line x1="935.5" y1="1549" x2="935.5" y2="1631" stroke="#909090" stroke-width="1.2" />
<line x1="1323" y1="1613.3" x2="1349" y2="1587.3" stroke="#6c6c6c" stroke-width="3.0" />
<line x1="1336.5" y1="1549" x2="1336.5" y2="1631" stroke="#909090" stroke-width="1.2" />
<line x1="1347" y1="1613.3" x2="1373" y2="1587.3" stroke="#6c6c6c" stroke-width="3.0" />
<line x1="1360.5" y1="1549" x2="1360.5" y2="1631" stroke="#909090" stroke-width="1.2" />
<line x1="1628" y1="1612.5" x2="1654" y2="1586.5" stroke="#6c6c6c" stroke-width="3.0" />
<line x1="1641.5" y1="1560" x2="1641.5" y2="1632" stroke="#909090" stroke-width="1.2" />
<line x1="1600" y1="1599.5" x2="1672" y2="1599.5" stroke="#909090" stroke-width="1.2" />
<line x1="1307.5" y1="1311" x2="1307.5" y2="1646" stroke="#8d8d8d" stroke-width="1.2" />
<line x1="1294" y1="1328" x2="1320" y2="1354" stroke="#6c6c6c" stroke-width="3.0" />
<line x1="1294" y1="1603" x2="1320" y2="1629" stroke="#6c6c6c" stroke-width="3.0" />
<line x1="1276" y1="1340.5" x2="1356" y2="1340.5" stroke="#909090" stroke-width="1.2" />
<line x1="1276" y1="1616.5" x2="1356" y2="1616.5" stroke="#909090" stroke-width="1.2" />
<line x1="1449.5" y1="448" x2="1449.5" y2="1646" stroke="#5c5c5c" stroke-width="1.2" />
<line x1="1436" y1="467" x2="1462" y2="493" stroke="#6c6c6c" stroke-width="3.0" />
<line x1="1416" y1="480.5" x2="1500" y2="480.5" stroke="#909090" stroke-width="1.2" />
<line x1="1436" y1="1304" x2="1462" y2="1330" stroke="#6c6c6c" stroke-width="3.0" />
<line x1="1416" y1="1317.5" x2="1500" y2="1317.5" stroke="#909090" stroke-width="1.2" />
<line x1="1436" y1="1328" x2="1462" y2="1354" stroke="#6c6c6c" stroke-width="3.0" />
<line x1="1416" y1="1341.5" x2="1500" y2="1341.5" stroke="#909090" stroke-width="1.2" />
<line x1="1436" y1="1603" x2="1462" y2="1629" stroke="#6c6c6c" stroke-width="3.0" />
<line x1="1416" y1="1616.5" x2="1500" y2="1616.5" stroke="#909090" stroke-width="1.2" />
<line x1="1662" y1="1458.5" x2="2176" y2="1458.5" stroke="#5c5c5c" stroke-width="1.2" />
<line x1="1679.5" y1="1471.5" x2="1705.5" y2="1445.5" stroke="#6c6c6c" stroke-width="3.0" />
<line x1="2133" y1="1471.5" x2="2159" y2="1445.5" stroke="#6c6c6c" stroke-width="3.0" />
<line x1="1692.5" y1="1408" x2="1692.5" y2="1490" stroke="#909090" stroke-width="1.2" />
<line x1="2146.5" y1="1429" x2="2146.5" y2="1507" stroke="#5c5c5c" stroke-width="1.2" />
<line x1="945.5" y1="1103" x2="945.5" y2="1313" stroke="#626262" stroke-width="1.9" stroke-dasharray="11 30"/>
<line x1="1555" y1="532" x2="2415" y2="1392" stroke="#5c5c5c" stroke-width="1.2" />
<line x1="1558.6" y1="554.7" x2="1595.4" y2="554.7" stroke="#6c6c6c" stroke-width="3.4" />
<line x1="1554.5" y1="576" x2="1613" y2="517.9" stroke="#5c5c5c" stroke-width="1.2" />
<line x1="2376" y1="1370" x2="2411" y2="1370" stroke="#6c6c6c" stroke-width="3.4" />
<line x1="2372" y1="1391" x2="2414" y2="1349" stroke="#5c5c5c" stroke-width="1.2" />
</g>
<g id="labels" font-family="'Liberation Sans', sans-serif">
<text x="1109" y="270" font-size="56.5" fill="#000" text-anchor="start" textLength="177" lengthAdjust="spacingAndGlyphs">Balkón</text>
<text x="545" y="770" font-size="56.5" fill="#000" text-anchor="start" textLength="152" lengthAdjust="spacingAndGlyphs">Izba I.</text>
<text x="266" y="1235" font-size="56.5" fill="#000" text-anchor="start" textLength="211" lengthAdjust="spacingAndGlyphs">Kúpelňa</text>
<text x="706" y="1250" font-size="56.5" fill="#000" text-anchor="start" textLength="202" lengthAdjust="spacingAndGlyphs">Chodba</text>
<text x="338" y="1526" font-size="56.5" fill="#000" text-anchor="start" textLength="97" lengthAdjust="spacingAndGlyphs">WC</text>
<text x="1018" y="1496" font-size="56.5" fill="#000" text-anchor="start" textLength="164" lengthAdjust="spacingAndGlyphs">Šatník</text>
<text x="1441" y="1413" font-size="56.5" fill="#000" text-anchor="start" textLength="176" lengthAdjust="spacingAndGlyphs">Špajza</text>
<text x="1658" y="1118" font-size="56.5" fill="#000" text-anchor="middle" textLength="243" lengthAdjust="spacingAndGlyphs">Obývacia</text>
<text x="1658" y="1185" font-size="56.5" fill="#000" text-anchor="middle" textLength="298" lengthAdjust="spacingAndGlyphs">miestnosť s</text>
<text x="1658" y="1250" font-size="56.5" fill="#000" text-anchor="middle" textLength="246" lengthAdjust="spacingAndGlyphs">kuchyňou</text>
<text transform="translate(499,572.5) rotate(0) scale(0.782,1)" font-size="56.5" fill="#666666" stroke="#666666" stroke-width="0.8" text-anchor="middle">4185</text>
<text transform="translate(1207,573.5) rotate(0) scale(0.782,1)" font-size="56.5" fill="#666666" stroke="#666666" stroke-width="0.8" text-anchor="middle">3500</text>
<text transform="translate(336.3,1141.2) rotate(0) scale(0.782,1)" font-size="56.5" fill="#666666" stroke="#666666" stroke-width="0.8" text-anchor="middle">2390</text>
<text transform="translate(390,1576.5) rotate(0) scale(0.782,1)" font-size="56.5" fill="#666666" stroke="#666666" stroke-width="0.8" text-anchor="middle">1870</text>
<text transform="translate(756.5,1576.5) rotate(0) scale(0.782,1)" font-size="56.5" fill="#666666" stroke="#666666" stroke-width="0.8" text-anchor="middle">1535</text>
<text transform="translate(1136.5,1576.5) rotate(0) scale(0.782,1)" font-size="56.5" fill="#666666" stroke="#666666" stroke-width="0.8" text-anchor="middle">1985</text>
<text transform="translate(1501.5,1576.5) rotate(0) scale(0.782,1)" font-size="56.5" fill="#666666" stroke="#666666" stroke-width="0.8" text-anchor="middle">1400</text>
<text transform="translate(1919.5,1434.5) rotate(0) scale(0.782,1)" font-size="56.5" fill="#666666" stroke="#666666" stroke-width="0.8" text-anchor="middle">2245</text>
<text transform="translate(237.5,765) rotate(-90) scale(0.782,1)" font-size="56.5" fill="#666666" stroke="#666666" stroke-width="0.8" text-anchor="middle">2835</text>
<text transform="translate(237.5,1205.2) rotate(-90) scale(0.782,1)" font-size="56.5" fill="#666666" stroke="#666666" stroke-width="0.8" text-anchor="middle">1660</text>
<text transform="translate(237.5,1525) rotate(-90) scale(0.782,1)" font-size="56.5" fill="#666666" stroke="#666666" stroke-width="0.8" text-anchor="middle">900</text>
<text transform="translate(667.5,1345.5) rotate(-90) scale(0.782,1)" font-size="56.5" fill="#666666" stroke="#666666" stroke-width="0.8" text-anchor="middle">2675</text>
<text transform="translate(1285.5,1477.5) rotate(-90) scale(0.782,1)" font-size="56.5" fill="#666666" stroke="#666666" stroke-width="0.8" text-anchor="middle">1360</text>
<text transform="translate(1427.5,1477.5) rotate(-90) scale(0.782,1)" font-size="56.5" fill="#666666" stroke="#666666" stroke-width="0.8" text-anchor="middle">1360</text>
<text transform="translate(1427.5,898.5) rotate(-90) scale(0.782,1)" font-size="56.5" fill="#666666" stroke="#666666" stroke-width="0.8" text-anchor="middle">4150</text>
<text transform="translate(1908.8,868.2) rotate(45) scale(0.782,1)" font-size="56.5" fill="#666666" stroke="#666666" stroke-width="0.8" text-anchor="middle">5710</text>
</g>
<path d="M1752 150 H1791 V263 H1880 V290 H1752 Z" fill="#ffffff" fill-opacity="0.69"/>
</svg>
</body></html>
